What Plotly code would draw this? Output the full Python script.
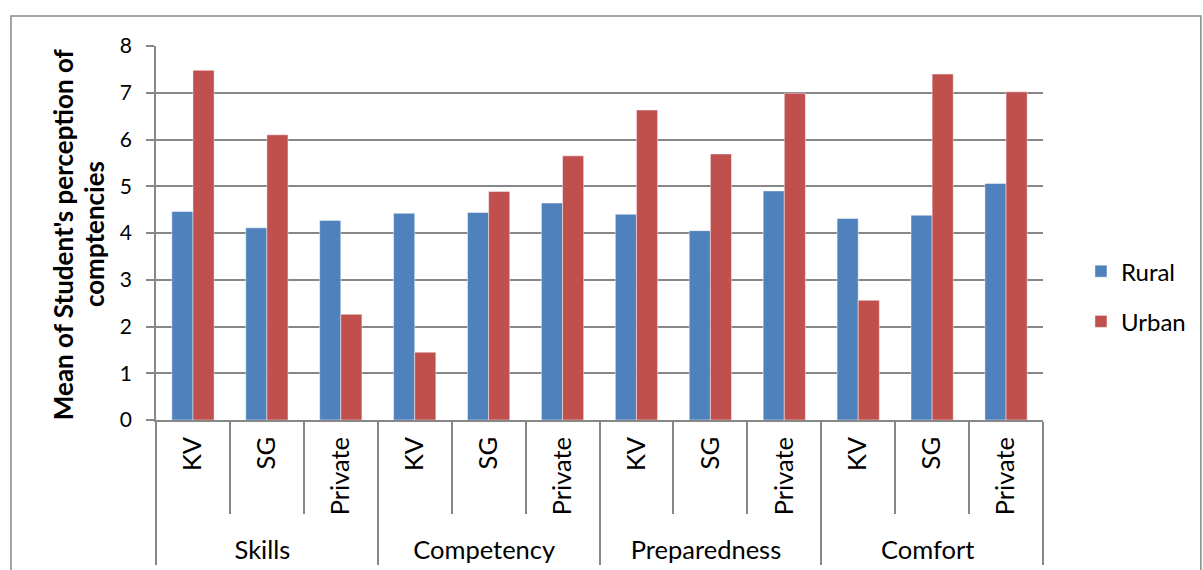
import plotly.graph_objects as go

groups = ["Skills", "Competency", "Preparedness", "Comfort"]
schools = ["KV", "SG", "Private"]
rural = [4.46, 4.11, 4.27, 4.42, 4.44, 4.64, 4.40, 4.05, 4.90, 4.31, 4.38, 5.06]
urban = [7.48, 6.10, 2.26, 1.45, 4.89, 5.65, 6.63, 5.69, 6.99, 2.56, 7.40, 7.02]
y_title_lines = ["Mean of Student's perception of", "comptencies"]

outer = [g for g in groups for _ in schools]
inner = [s for _ in groups for s in schools]

FONT = "Lato"
GRID = "#878787"

fig = go.Figure()
fig.add_trace(go.Bar(x=[outer, inner], y=rural, name="Rural", legendgroup="r",
                     marker=dict(color="#4F81BD", line=dict(color="rgba(255,255,255,0.45)", width=1))))
fig.add_trace(go.Bar(x=[outer, inner], y=urban, name="Urban", legendgroup="u",
                     marker=dict(color="#C0504D", line=dict(color="rgba(255,255,255,0.45)", width=1))))

ann = []
for line, xp in zip(y_title_lines, [-0.1048, -0.0699]):
    ann.append(dict(text="<b>" + line + "</b>", textangle=-90, xref="paper", yref="paper",
                    x=xp, y=0.497, xanchor="center", yanchor="middle", showarrow=False,
                    font=dict(size=26, family=FONT, color="black")))

fig.update_layout(
    width=1203, height=570,
    margin=dict(l=156, r=160, t=46, b=150, autoexpand=False),
    paper_bgcolor="white", plot_bgcolor="white",
    font=dict(family=FONT, size=24, color="black"),
    barmode="group", bargap=0.4286, bargroupgap=0,
    legend=dict(x=1.0428, y=0.33, xanchor="left", yanchor="middle",
                font=dict(size=24), tracegroupgap=16, bgcolor="rgba(0,0,0,0)"),
    yaxis=dict(range=[0, 8], dtick=1, tick0=0, showgrid=True, gridcolor=GRID, gridwidth=1.5,
               showline=True, linecolor=GRID, linewidth=1.5, ticks="outside", ticklen=8,
               tickcolor=GRID, tickwidth=1.5, zeroline=False, tickfont=dict(size=21),
               ticklabelstandoff=10),
    xaxis=dict(type="multicategory", showline=True, linecolor=GRID, linewidth=1.5,
               ticks="outside", ticklen=92, tickcolor=GRID, tickwidth=1.5,
               tickangle=-90, showdividers=True, dividercolor=GRID, dividerwidth=1.5,
               tickfont=dict(size=25.5), ticklabelstandoff=5),
    annotations=ann,
    shapes=[dict(type="rect", xref="paper", yref="paper", x0=-0.1635, x1=1.178, y0=-0.45, y1=1.080,
                 line=dict(color="#878787", width=1.5), fillcolor="rgba(0,0,0,0)", layer="below")],
)

fig.write_html("out.html")
